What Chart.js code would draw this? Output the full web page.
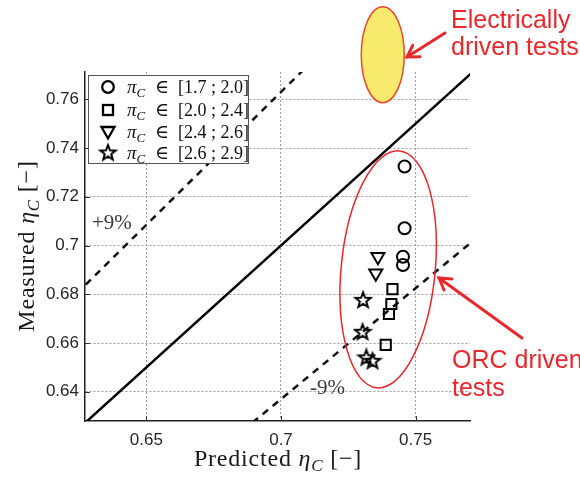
<!DOCTYPE html>
<html><head><meta charset="utf-8">
<script src="https://cdn.jsdelivr.net/npm/chart.js@4"></script>
<style>html,body{margin:0;padding:0;background:#fff}#wrap{width:580px;height:477px;position:relative}</style>
</head><body><div id="wrap"><canvas id="c" width="580" height="477"></canvas></div>
<script>
// ---- data ----
const xTickValues = [0.65, 0.7, 0.75];
const xTickLabels = ['0.65', '0.7', '0.75'];
const yTickValues = [0.64, 0.66, 0.68, 0.7, 0.72, 0.74, 0.76];
const yTickLabels = ['0.64', '0.66', '0.68', '0.7', '0.72', '0.74', '0.76'];
const seriesRanges = ['[1.7 ; 2.0]', '[2.0 ; 2.4]', '[2.4 ; 2.6]', '[2.6 ; 2.9]'];

const predictedA = [0.7459, 0.7459, 0.7453, 0.7453];
const measuredA  = [0.7324, 0.7071, 0.6954, 0.6920];
const predictedB = [0.7414, 0.7410, 0.7401, 0.7389];
const measuredB  = [0.6821, 0.6760, 0.6719, 0.6592];
const predictedC = [0.7360, 0.7352];
const measuredC  = [0.6954, 0.6886];
const predictedD = [0.7305, 0.7303, 0.7317, 0.7340];
const measuredD  = [0.6777, 0.6646, 0.6541, 0.6527];

const identityX = [0.6, 0.8];
const identityY = [0.6, 0.8];
const plus9X = [0.6, 0.8];
const plus9Y = [0.654, 0.872];
const minus9X = [0.6, 0.8];
const minus9Y = [0.546, 0.728];

// ---- helpers ----
const SERIF = '"Liberation Serif", "DejaVu Serif", serif';
const SANS = '"Liberation Sans", Arial, sans-serif';
const RED = '#e8282c';

function pts(xs, ys) { return xs.map((x, i) => ({x: x, y: ys[i]})); }

function starPath(ctx, cx, cy, R, r) {
  ctx.beginPath();
  for (let i = 0; i < 10; i++) {
    const ang = -Math.PI / 2 + i * Math.PI / 5;
    const rad = (i % 2) ? r : R;
    const px = cx + rad * Math.cos(ang), py = cy + rad * Math.sin(ang);
    if (i === 0) ctx.moveTo(px, py); else ctx.lineTo(px, py);
  }
  ctx.closePath();
}
const starImg = document.createElement('canvas');
starImg.width = 20; starImg.height = 20;
(function () {
  const g = starImg.getContext('2d');
  g.strokeStyle = '#000'; g.lineWidth = 2; g.lineJoin = 'miter';
  starPath(g, 10, 10.5, 8, 3.4); g.stroke();
})();

function partsWidth(ctx, parts) {
  let w = 0;
  parts.forEach(p => { ctx.font = p.font; w += ctx.measureText(p.t).width; });
  return w;
}
function drawParts(ctx, parts, x, y) {
  let cx = x;
  parts.forEach(p => {
    ctx.font = p.font;
    ctx.fillText(p.t, cx, y + (p.dy || 0));
    cx += ctx.measureText(p.t).width;
  });
}
function etaParts(size, label) {
  return [
    {t: label + ' ', font: size + 'px ' + SERIF},
    {t: 'η', font: 'italic ' + size + 'px ' + SERIF},
    {t: 'C', font: 'italic ' + Math.round(size * 0.7) + 'px ' + SERIF, dy: size * 0.22},
    {t: ' [−]', font: size + 'px ' + SERIF}
  ];
}
function arrow(ctx, x1, y1, x2, y2) {
  ctx.beginPath(); ctx.moveTo(x1, y1); ctx.lineTo(x2, y2); ctx.stroke();
  const a = Math.atan2(y2 - y1, x2 - x1), L = 13, s = 0.55;
  ctx.beginPath();
  ctx.moveTo(x2 - L * Math.cos(a - s), y2 - L * Math.sin(a - s));
  ctx.lineTo(x2, y2);
  ctx.lineTo(x2 - L * Math.cos(a + s), y2 - L * Math.sin(a + s));
  ctx.stroke();
}

const overlay = {
  id: 'overlay',
  afterDraw(chart) {
    const ctx = chart.ctx, a = chart.chartArea;
    const xs = chart.scales.x, ys = chart.scales.y;
    ctx.save();
    // inward tick marks
    ctx.strokeStyle = '#333'; ctx.lineWidth = 1;
    xTickValues.forEach(v => {
      const p = Math.round(xs.getPixelForValue(v)) + 0.5;
      ctx.beginPath(); ctx.moveTo(p, a.bottom); ctx.lineTo(p, a.bottom - 5); ctx.stroke();
    });
    yTickValues.forEach(v => {
      const p = Math.round(ys.getPixelForValue(v)) + 0.5;
      ctx.beginPath(); ctx.moveTo(a.left, p); ctx.lineTo(a.left + 5, p); ctx.stroke();
    });

    // legend box
    ctx.fillStyle = '#fff'; ctx.strokeStyle = '#555'; ctx.lineWidth = 1;
    ctx.fillRect(88, 75, 160, 88); ctx.strokeRect(88.5, 75.5, 160, 88);
    const rows = [87, 110, 132, 153];
    ctx.strokeStyle = '#000'; ctx.lineWidth = 2.3;
    ctx.beginPath(); ctx.arc(108, rows[0], 5.8, 0, Math.PI * 2); ctx.stroke();
    ctx.strokeRect(103, rows[1] - 5, 10, 10);
    ctx.beginPath(); ctx.moveTo(101.5, rows[2] - 5); ctx.lineTo(114.5, rows[2] - 5); ctx.lineTo(108, rows[2] + 6.5); ctx.closePath(); ctx.stroke();
    ctx.drawImage(starImg, 98, rows[3] - 10.5);
    ctx.fillStyle = '#111'; ctx.textBaseline = 'alphabetic'; ctx.textAlign = 'left';
    rows.forEach((ry, i) => {
      drawParts(ctx, [
        {t: 'π', font: 'italic 19px ' + SERIF},
        {t: 'C', font: 'italic 13px ' + SERIF, dy: 4},
      ], 127, ry + 6);
      ctx.font = '19px ' + SERIF; ctx.fillText('∈', 155, ry + 6);
      ctx.font = '18px ' + SERIF; ctx.fillText(seriesRanges[i], 178, ry + 6);
    });

    // +9% / -9%
    ctx.fillStyle = '#3a3a3a'; ctx.font = '21px ' + SERIF;
    ctx.fillText('+9%', 92, 229);
    ctx.fillText('-9%', 310, 394);

    // axis titles
    ctx.fillStyle = '#1a1a1a';
    ctx.letterSpacing = '0.8px';
    const xp = etaParts(24, 'Predicted');
    const xw = partsWidth(ctx, xp);
    drawParts(ctx, xp, 278 - xw / 2, 466);
    const yp = etaParts(24, 'Measured');
    const yw = partsWidth(ctx, yp);
    ctx.save(); ctx.translate(34, 246); ctx.rotate(-Math.PI / 2);
    drawParts(ctx, yp, -yw / 2, 0); ctx.restore();
    ctx.letterSpacing = '0px';

    // ORC ellipse (anchored to data)
    const ocx = xs.getPixelForValue(0.7398), ocy = ys.getPixelForValue(0.6902);
    ctx.strokeStyle = RED; ctx.lineWidth = 1.5;
    ctx.beginPath(); ctx.ellipse(ocx, ocy, 47, 119, 0.096, 0, Math.PI * 2); ctx.stroke();
    // Electrically driven ellipse
    const ecx = xs.getPixelForValue(0.7378), ecy = ys.getPixelForValue(0.7783);
    ctx.fillStyle = '#f7ea6c';
    ctx.beginPath(); ctx.ellipse(ecx, ecy, 21.5, 48, 0, 0, Math.PI * 2); ctx.fill();
    ctx.strokeStyle = '#e84a2a'; ctx.lineWidth = 1.5; ctx.stroke();

    // arrows
    ctx.strokeStyle = RED; ctx.lineWidth = 3; ctx.lineCap = 'round';
    arrow(ctx, 445, 33, 407, 57);
    arrow(ctx, 522, 338, 439, 278);

    // red labels
    ctx.fillStyle = RED; ctx.font = '25px ' + SANS;
    ctx.fillText('Electrically', 451, 28);
    ctx.fillText('driven tests', 451, 55);
    ctx.fillText('ORC driven', 452, 368);
    ctx.fillText('tests', 452, 396);
    ctx.restore();
  }
};

const gridCommon = {color: '#9a9a9a', lineWidth: 1, drawTicks: false};
const borderCommon = {display: true, color: '#222', width: 1.5, dash: [2, 2]};

new Chart(document.getElementById('c'), {
  type: 'scatter',
  data: {
    datasets: [
      {data: pts(predictedA, measuredA), pointStyle: 'circle', pointRadius: 6, pointBorderColor: '#000', pointBackgroundColor: 'rgba(0,0,0,0)', pointBorderWidth: 2},
      {data: pts(predictedB, measuredB), pointStyle: 'rect', pointRadius: 7.2, pointBorderColor: '#000', pointBackgroundColor: 'rgba(0,0,0,0)', pointBorderWidth: 2},
      {data: pts(predictedC, measuredC), pointStyle: 'triangle', pointRotation: 180, pointRadius: 7.5, pointBorderColor: '#000', pointBackgroundColor: 'rgba(0,0,0,0)', pointBorderWidth: 2},
      {data: pts(predictedD, measuredD), pointStyle: starImg, pointRadius: 8},
      {data: pts(identityX, identityY), showLine: true, pointRadius: 0, borderColor: '#000', borderWidth: 2.5, clip: 0},
      {data: pts(plus9X, plus9Y), showLine: true, pointRadius: 0, borderColor: '#111', borderWidth: 2.5, borderDash: [7, 6], clip: 0},
      {data: pts(minus9X, minus9Y), showLine: true, pointRadius: 0, borderColor: '#111', borderWidth: 2.5, borderDash: [7, 6], clip: 0}
    ]
  },
  options: {
    responsive: false, animation: false, devicePixelRatio: 1,
    layout: {padding: {left: 0, top: 72, right: 110, bottom: 0}},
    plugins: {legend: {display: false}, tooltip: {enabled: false}},
    scales: {
      x: {
        type: 'linear', min: 0.6272, max: 0.7702,
        afterBuildTicks: s => { s.ticks = xTickValues.map(v => ({value: v})); },
        afterFit: s => { s.height = 56; },
        ticks: {callback: v => xTickLabels[xTickValues.indexOf(v)], font: {family: SANS, size: 17}, color: '#262626', padding: 9, maxRotation: 0},
        grid: gridCommon, border: borderCommon
      },
      y: {
        type: 'linear', min: 0.628, max: 0.7712,
        afterBuildTicks: s => { s.ticks = yTickValues.map(v => ({value: v})); },
        afterFit: s => { s.width = 85; },
        ticks: {callback: v => yTickLabels[yTickValues.indexOf(v)], font: {family: SANS, size: 17}, color: '#262626', padding: 6},
        grid: gridCommon, border: borderCommon
      }
    }
  },
  plugins: [overlay]
});
</script></body></html>
